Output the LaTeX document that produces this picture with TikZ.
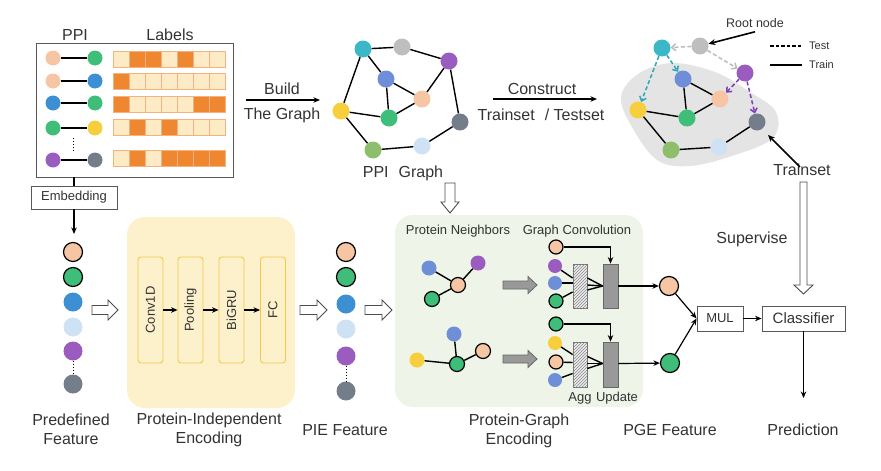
\documentclass[tikz,border=0pt]{standalone}
\usepackage{fontspec}
\setmainfont{Liberation Sans}
\usetikzlibrary{arrows.meta,patterns}
\definecolor{txt}{HTML}{333333}
\definecolor{cpeach}{HTML}{F6C5A3}
\definecolor{cgreen}{HTML}{3EBE78}
\definecolor{cblue}{HTML}{3D8FD4}
\definecolor{clblue}{HTML}{CFE2F3}
\definecolor{cpurple}{HTML}{9B5CC0}
\definecolor{cgray}{HTML}{747D8A}
\definecolor{cyellow}{HTML}{F7CE3C}
\definecolor{ccyan}{HTML}{3BB8C8}
\definecolor{clgray}{HTML}{BEBEBE}
\definecolor{cperi}{HTML}{6E8FD8}
\definecolor{clgreen}{HTML}{8DBE6C}
\definecolor{cdark}{HTML}{EF8630}
\definecolor{clight}{HTML}{FDEBC6}
\definecolor{ccellb}{HTML}{F3B27F}
\definecolor{cyelblk}{HTML}{FDF1CB}
\definecolor{cyelbox}{HTML}{F3C94A}
\definecolor{cgrnblk}{HTML}{EEF4E7}
\definecolor{cblob}{HTML}{E4E4E4}
\definecolor{cteal}{HTML}{2AA8B8}
\definecolor{cpurd}{HTML}{7D3FB5}
\definecolor{cgarr}{HTML}{BBBBBB}
\newcommand\myharr[7]{\draw[#7] (#1,{#3-#4}) -- ({#2-#6},{#3-#4}) -- ({#2-#6},{#3-#5}) -- (#2,#3) -- ({#2-#6},{#3+#5}) -- ({#2-#6},{#3+#4}) -- (#1,{#3+#4}) -- cycle;}
\newcommand\myvarr[7]{\draw[#7] ({#3-#4},#1) -- ({#3-#4},{#2-#6}) -- ({#3-#5},{#2-#6}) -- (#3,#2) -- ({#3+#5},{#2-#6}) -- ({#3+#4},{#2-#6}) -- ({#3+#4},#1) -- cycle;}
\begin{document}
\begin{tikzpicture}[x=1pt,y=-1pt,
  lab/.style={font=\fontsize{16}{19}\selectfont, text=txt, align=center, inner sep=0},
  mlab/.style={font=\fontsize{13}{15}\selectfont, text=txt, inner sep=0},
  slab/.style={font=\fontsize{11}{13}\selectfont, text=txt, inner sep=0},
  nd/.style={circle, inner sep=0, minimum size=17, fill=#1},
  ndb/.style={circle, inner sep=0, minimum size=17, fill=#1, draw=black, line width=1.2},
  edge/.style={line width=1.4, black},
  arr/.style={line width=1.2, black, -{Stealth[length=6.5pt,width=5.5pt]}},
  arrb/.style={line width=1.6, black, -{Stealth[length=7pt,width=6pt]}},
  dar/.style={line width=1.5, dash pattern=on 4pt off 2.5pt, -{Straight Barb[length=4pt,width=7pt]}},
  harr/.style={draw=black!70, fill=white, line width=0.9},
  garr/.style={draw=black!60, fill=black!40, line width=0.8},
  cellb/.style={draw=ccellb, line width=0.8},
  gbox/.style={draw=black!65, line width=0.9, inner sep=0},
  inbox/.style={draw=cyelbox, line width=0.9, rounded corners=3, rotate=90, minimum width=106, minimum height=25, inner sep=0, font=\fontsize{13}{15}\selectfont, text=txt}
]
\useasboundingbox (0,0) rectangle (881,471);

% ---------------- top-left PPI / labels ----------------
\node[gbox, minimum width=197, minimum height=134] (ppibox) at (134.5,110) {};
\node[lab] (ppit) at (75,35) {PPI};
\node[lab] (labt) at (170,35) {Labels};
\foreach \i/\y/\ca/\cb in {1/58/cpeach/cgreen, 2/81/cpeach/cblue, 3/103/cblue/cgreen, 4/128/cgreen/cyellow, 5/160/cpurple/cgray} {
  \node[nd=\ca, minimum size=15] (pa\i) at (53,\y) {};
  \node[nd=\cb, minimum size=15] (pb\i) at (95,\y) {};
  \draw[edge] (pa\i) -- (pb\i);
}
\draw[line width=1, dotted] (73,138) -- (73,151);
\foreach \y/\dk in {51/{1,2,4}, 73/{0}, 96/{0,5,6}, 119/{1,3}, 150/{1,3,4,5,6}} {
  \foreach \c in {0,...,6} \draw[cellb, fill=clight] ({113+16*\c},\y) rectangle +(16,16);
  \foreach \c in \dk \draw[cellb, fill=cdark] ({113+16*\c},\y) rectangle +(16,16);
}

% embedding
\node[gbox, minimum width=86, minimum height=23, font=\fontsize{13}{15}\selectfont, text=txt] (emb) at (74,197.5) {Embedding};
\draw[line width=1.2] (emb.north |- ppibox.south) -- (emb.north);
\coordinate (embend) at (74,234);
\draw[arr] (emb.south) -- (embend);

% ---------------- predefined feature ----------------
\node[ndb=cpeach, minimum size=19] (pf1) at (73,252) {};
\node[ndb=cgreen, minimum size=19] (pf2) at (73,277) {};
\node[nd=cblue, minimum size=19] (pf3) at (73,302) {};
\node[nd=clblue, minimum size=19] (pf4) at (73,327) {};
\node[nd=cpurple, minimum size=19] (pf5) at (73,351) {};
\node[nd=cgray, minimum size=19] (pf6) at (73,384) {};
\draw[line width=1, dotted] (pf5.south) -- (pf6.north);
\node[lab] (pflab) at (71,429.5) {Predefined\\Feature};

\myharr{92}{118}{310}{4.5}{10}{10}{harr}

% ---------------- protein-independent encoding ----------------
\node[fill=cyelblk, rounded corners=18, minimum width=168, minimum height=191, inner sep=0] (pieblk) at (211,312.5) {};
\node[inbox] (conv) at (150.5,310) {Conv1D};
\node[inbox] (pool) at (190.5,310) {Pooling};
\node[inbox] (gru) at (231.5,310) {BiGRU};
\node[inbox] (fc) at (273,310) {FC};
\draw[arr] (conv) -- (pool);
\draw[arr] (pool) -- (gru);
\draw[arr] (gru) -- (fc);
\node[lab] (pielab) at (209,429.5) {Protein-Independent\\Encoding};

\myharr{300}{327}{310}{4.5}{10}{10}{harr}

% PIE feature
\node[ndb=cpeach, minimum size=19] (pe1) at (346,252) {};
\node[ndb=cgreen, minimum size=19] (pe2) at (346,277) {};
\node[nd=cblue, minimum size=19] (pe3) at (346,304) {};
\node[nd=clblue, minimum size=19] (pe4) at (346,329) {};
\node[nd=cpurple, minimum size=19] (pe5) at (346,356) {};
\node[nd=cgray, minimum size=19] (pe6) at (346,391) {};
\draw[line width=1, dotted] (pe5.south) -- (pe6.north);
\node[lab] (pefeat) at (345,430) {PIE Feature};

\myharr{365}{392}{310}{4.5}{10}{10}{harr}

% ---------------- protein-graph encoding ----------------
\node[fill=cgrnblk, rounded corners=18, minimum width=248, minimum height=192, inner sep=0] (pgeblk) at (519,311) {};
\node[mlab] (pnlab) at (458,231) {Protein Neighbors};
\node[mlab] (gclab) at (577,231) {Graph Convolution};

\node[nd=cpurple, minimum size=15] (n1p) at (478,263) {};
\node[nd=cperi, minimum size=15] (n1b) at (429,268) {};
\node[ndb=cpeach, minimum size=15] (n1c) at (458,285) {};
\node[ndb=cgreen, minimum size=15] (n1g) at (432,299) {};
\draw[edge] (n1b) -- (n1c); \draw[edge] (n1p) -- (n1c); \draw[edge] (n1g) -- (n1c);

\node[nd=cperi, minimum size=15] (n2b) at (454,334) {};
\node[nd=cyellow, minimum size=15] (n2y) at (417,360) {};
\node[ndb=cgreen, minimum size=15] (n2g) at (457,364) {};
\node[ndb=cpeach, minimum size=15] (n2p) at (483,351) {};
\draw[edge] (n2b) -- (n2g); \draw[edge] (n2y) -- (n2g); \draw[edge] (n2p) -- (n2g);

\myharr{503}{537}{285}{4}{8.5}{9}{garr}
\myharr{503}{537}{359}{4}{8.5}{9}{garr}

% graph conv 1
\node[ndb=cpeach, minimum size=14] (g1t) at (556,247) {};
\node[nd=cpurple, minimum size=14] (g1a) at (555,266) {};
\node[nd=cperi, minimum size=14] (g1b) at (555,283) {};
\node[ndb=cgreen, minimum size=14] (g1c) at (556,301) {};
\node[draw=black!55, line width=0.8, fill=black!8, postaction={pattern=north east lines, pattern color=black!45}, minimum width=14, minimum height=44, inner sep=0] (agg1) at (580,286) {};
\node[draw=black!60, line width=0.8, fill=black!40, minimum width=15, minimum height=44, inner sep=0] (upd1) at (610.5,286) {};
\draw[edge] (g1a) -- ([yshift=8]agg1.west);
\draw[edge] (g1b) -- ([yshift=3]agg1.west);
\draw[edge] (g1c) -- ([yshift=-6]agg1.west);
\draw[edge] ([yshift=8]agg1.east) -- (upd1.west);
\draw[edge] ([yshift=1]agg1.east) -- (upd1.west);
\draw[edge] ([yshift=-4]agg1.east) -- (upd1.west);
\draw[arr] (g1t.east) -| (upd1.north);
\node[ndb=cpeach, minimum size=19] (pg1) at (669,286) {};
\draw[arr] (upd1.east) -- (pg1);

% graph conv 2
\node[ndb=cgreen, minimum size=14] (g2t) at (556,324) {};
\node[nd=cyellow, minimum size=14] (g2a) at (555,343) {};
\node[ndb=cpeach, minimum size=14] (g2b) at (556,362) {};
\node[nd=cperi, minimum size=14] (g2c) at (555,380) {};
\node[draw=black!55, line width=0.8, fill=black!8, postaction={pattern=north east lines, pattern color=black!45}, minimum width=14, minimum height=45, inner sep=0] (agg2) at (580,364.5) {};
\node[draw=black!60, line width=0.8, fill=black!40, minimum width=15, minimum height=45, inner sep=0] (upd2) at (610.5,364.5) {};
\draw[edge] (g2a) -- ([yshift=10]agg2.west);
\draw[edge] (g2b) -- ([yshift=2]agg2.west);
\draw[edge] (g2c) -- ([yshift=-9]agg2.west);
\draw[edge] ([yshift=8]agg2.east) -- ([yshift=1]upd2.west);
\draw[edge] ([yshift=1]agg2.east) -- ([yshift=1]upd2.west);
\draw[edge] ([yshift=-4]agg2.east) -- ([yshift=1]upd2.west);
\draw[arr] (g2t.east) -| (upd2.north);
\node[ndb=cgreen, minimum size=19] (pg2) at (670,363) {};
\draw[arr] ([yshift=1]upd2.east) -- (pg2);

\node[mlab] (agglab) at (580,398) {Agg};
\node[mlab] (updlab) at (617,398) {Update};
\node[lab] (pgelab) at (519,431) {Protein-Graph\\Encoding};
\node[lab] (pgefeat) at (670,430) {PGE Feature};

% ---------------- MUL / classifier ----------------
\node[gbox, minimum width=46, minimum height=25, font=\fontsize{13}{15}\selectfont, text=txt] (mul) at (720,318.5) {MUL};
\node[gbox, minimum width=83, minimum height=25, font=\fontsize{15}{17}\selectfont, text=txt] (cls) at (803.5,318.5) {Classifier};
\draw[arr] (pg1) -- (mul.west);
\draw[arr] (pg2) -- (mul.west);
\draw[arr] (mul) -- (cls);
\coordinate (predend) at (803.5,398);
\draw[arr] (cls.south) -- (predend);
\node[lab] (predlab) at (803,430) {Prediction};
\myvarr{182}{294}{803.5}{3.5}{9.5}{9}{harr}
\node[lab] (suplab) at (752,239) {Supervise};

% ---------------- PPI graph (top middle) ----------------
\coordinate (bs) at (246,100); \coordinate (be) at (320,100);
\draw[arr] (bs) -- (be);
\node[lab] (buildlab) at (282,89) {Build};
\node[lab] (tglab) at (282,115) {The Graph};

\node[nd=ccyan] (gcy) at (363,49) {};
\node[nd=clgray] (ggr) at (402,47) {};
\node[nd=cpurple] (gpu) at (449,61) {};
\node[nd=cperi] (gbl) at (386,79) {};
\node[nd=cpeach] (gpe) at (422,99) {};
\node[nd=cyellow] (gye) at (341,111) {};
\node[nd=cgreen] (ggn) at (389,118) {};
\node[nd=cgray] (gdg) at (460,122) {};
\node[nd=clgreen] (glg) at (373,150) {};
\node[nd=clblue] (glb) at (422,146) {};
\foreach \a/\b in {gcy/ggr, ggr/gpu, gcy/gbl, gcy/gye, gbl/gpe, gbl/ggn, gpu/gpe, gpu/gdg, gye/ggn, ggn/gpe, gye/glg, glg/glb, glb/gdg}
  \draw[edge] (\a) -- (\b);
\node[lab] (ppiglab) at (403,173) {PPI\hspace{10pt}Graph};
\myvarr{183}{213}{450}{5}{9}{11}{harr}

% ---------------- train / test set (top right) ----------------
\coordinate (cs) at (493,99); \coordinate (ce) at (597,99);
\draw[arr] (cs) -- (ce);
\node[lab] (conlab) at (542,89) {Construct};
\node[lab] (ttlab) at (541,115) {Trainset\hspace{10pt}/ Testset};

\fill[cblob] plot[smooth cycle, tension=0.6] coordinates {(621,97) (638,74) (672,63) (715,72) (750,92) (776,112) (773,138) (735,155) (690,166) (657,160) (632,127)};

\node[nd=ccyan] (rcy) at (662,48) {};
\node[nd=clgray] (rgr) at (700,46) {};
\node[nd=cpurple] (rpu) at (745,73) {};
\node[nd=cperi] (rbl) at (683,79) {};
\node[nd=cpeach] (rpe) at (720,99) {};
\node[nd=cyellow] (rye) at (638,110) {};
\node[nd=cgreen] (rgn) at (687,118) {};
\node[nd=cgray] (rdg) at (757,122) {};
\node[nd=clgreen] (rlg) at (671,150) {};
\node[nd=clblue] (rlb) at (719,147) {};
\foreach \a/\b in {rbl/rgn, rbl/rpe, rgn/rpe, rye/rgn, rye/rlg, rlg/rlb, rlb/rdg}
  \draw[edge] (\a) -- (\b);
\draw[dar, cgarr] (rgr) -- (rcy);
\draw[dar, cgarr] (rgr) -- (rpu);
\draw[dar, cteal] (rcy) -- (rye);
\draw[dar, cteal] (rcy) -- (rbl);
\draw[dar, cpurd] (rpu) -- (rpe);
\draw[dar, cpurd] (rpu) -- (rdg);

\node[font=\fontsize{12.5}{15}\selectfont, text=txt, inner sep=0] (rootl) at (755,23) {Root node};
\draw[arrb] ([yshift=-4]rootl.south) -- (rgr);
\node[slab, anchor=west] (testl) at (809,46) {Test};
\node[slab, anchor=west] (trainl) at (809,65) {Train};
\draw[line width=1.3, dash pattern=on 3.5pt off 2pt] ([xshift=-39]testl.west) -- ([xshift=-7]testl.west);
\draw[line width=1.3] ([xshift=-39]trainl.west) -- ([xshift=-7]trainl.west);

\node[lab] (trsl) at (802,170) {Trainset};
\coordinate (tre) at (768,135);
\draw[arrb] ([xshift=-2,yshift=-3]trsl.north) -- (tre);
\end{tikzpicture}
\end{document}
